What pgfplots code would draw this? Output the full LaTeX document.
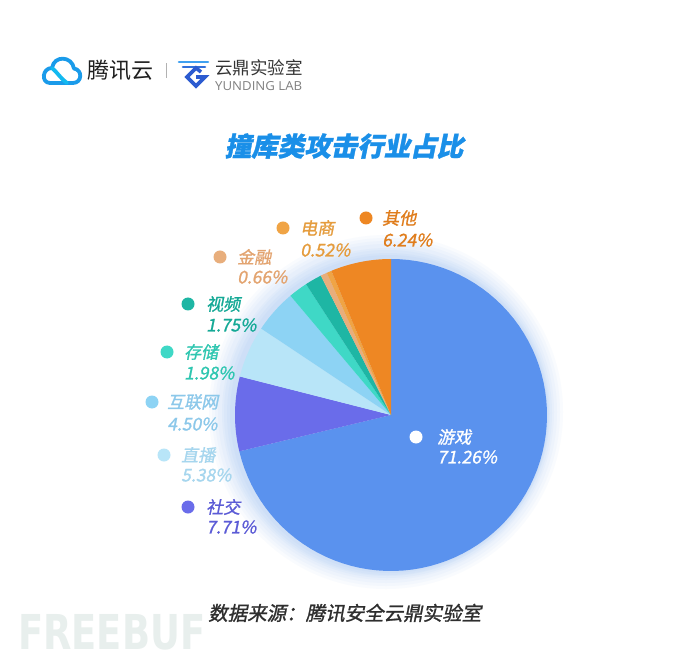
\documentclass[border=0pt]{standalone}
\usepackage{fontspec}
\setmainfont{Noto Sans CJK SC}
\newfontfamily\cjksl{Noto Sans CJK SC}[FakeSlant=0.2]
\newfontfamily\cjkslb{Noto Sans CJK SC}[FakeSlant=0.2, FakeBold=1.2]
\newfontfamily\latinsans{Open Sans}
\newfontfamily\wmfont{DejaVu Sans}
\usepackage{graphicx}
\usepackage{pgfplots}
\usepackage{pgfplotstable}
\pgfplotsset{compat=1.18}

\definecolor{cgame}{HTML}{5A92EE}
\definecolor{csocial}{HTML}{6A6CEA}
\definecolor{clive}{HTML}{B8E5F8}
\definecolor{cnet}{HTML}{8DD3F4}
\definecolor{cstore}{HTML}{3FD8C6}
\definecolor{cvideo}{HTML}{1EB6A4}
\definecolor{cfin}{HTML}{E8AE7C}
\definecolor{cshop}{HTML}{F0A445}
\definecolor{cother}{HTML}{EE8723}
\definecolor{tsocial}{HTML}{5B5BD6}
\definecolor{tlive}{HTML}{A6D6EE}
\definecolor{tnet}{HTML}{8CC8EA}
\definecolor{tstore}{HTML}{2EC6B0}
\definecolor{tvideo}{HTML}{15A996}
\definecolor{tfin}{HTML}{E3A470}
\definecolor{tshop}{HTML}{E59C3D}
\definecolor{tother}{HTML}{E07D1C}
\definecolor{titleblue}{HTML}{1A8FE8}
\definecolor{glow}{HTML}{6FA8F5}
\definecolor{logoc}{HTML}{1A9BEA}
\definecolor{ydblue}{HTML}{2C5BD0}
\definecolor{ydlight}{HTML}{3FA0F0}
\definecolor{wm}{HTML}{E8EFED}

% percentage of each sector, clockwise from 12 o'clock
\pgfplotstableread[col sep=comma]{
pct,col
71.26,cgame
7.71,csocial
5.38,clive
4.50,cnet
1.98,cstore
1.75,cvideo
0.66,cfin
0.52,cshop
6.24,cother
}\piedata

\newcommand\pielabel[8]{% dotx, doty, dotcolor, textcolor, textx, name, pct, pcty
  \fill[#3] (axis cs:#1,#2) circle[radius=6.5bp];
  \node[anchor=west, inner sep=0pt, text=#4, font=\cjkslb\fontsize{17bp}{17bp}\selectfont] at (axis cs:#5,#2) {#6};
  \node[anchor=west, inner sep=0pt, text=#4, font=\cjkslb\fontsize{17.5bp}{17bp}\selectfont] at (axis cs:#5,#8) {#7};
}

\begin{document}
\begin{tikzpicture}
\begin{axis}[at={(0,0)}, anchor=south west, scale only axis,
  width=690bp, height=662bp, xmin=0, xmax=690, ymin=0, ymax=662,
  hide axis, clip=false]
\fill[white] (axis cs:0,0) rectangle (axis cs:690,662);
% watermark
\node[anchor=west, inner sep=0pt, text=wm, font=\wmfont\bfseries] at (axis cs:18,30) {\resizebox{187bp}{35bp}{FREEBUF}};
% glow
\fill[glow, opacity=0.04] (axis cs:386,250) circle[radius=177bp];
\fill[glow, opacity=0.04] (axis cs:386,250) circle[radius=174bp];
\fill[glow, opacity=0.045] (axis cs:386,250) circle[radius=171bp];
\fill[glow, opacity=0.045] (axis cs:386,250) circle[radius=168bp];
\fill[glow, opacity=0.05] (axis cs:387,249) circle[radius=165bp];
\fill[glow, opacity=0.05] (axis cs:387,249) circle[radius=163bp];
\fill[glow, opacity=0.05] (axis cs:388,248) circle[radius=161bp];
\fill[glow, opacity=0.05] (axis cs:389,248) circle[radius=159bp];
% pie
\pgfplotstablegetrowsof{\piedata}
\pgfmathtruncatemacro\N{\pgfplotsretval-1}
\gdef\cum{0}
\pgfplotsforeachungrouped \i in {0,...,\N}{
  \pgfplotstablegetelem{\i}{pct}\of\piedata \let\p\pgfplotsretval
  \pgfplotstablegetelem{\i}{col}\of\piedata \let\c\pgfplotsretval
  \pgfmathsetmacro\a{\cum*3.6}
  \pgfmathsetmacro\b{(\cum+\p)*3.6}
  \edef\temp{\noexpand\addplot[fill=\c, draw=none, domain=\a:\b, samples=80]
    ({391+156*sin(x)},{247+156*cos(x)}) -- (axis cs:391,247) -- cycle;}
  \temp
  \pgfmathsetmacro\cumn{\cum+\p}\global\let\cum\cumn
}
% labels
\pielabel{366}{444}{cother}{tother}{382}{其他}{6.24\%}{422}
\pielabel{283}{434}{cshop}{tshop}{300}{电商}{0.52\%}{412}
\pielabel{220}{405}{cfin}{tfin}{237}{金融}{0.66\%}{385}
\pielabel{188}{358}{cvideo}{tvideo}{206}{视频}{1.75\%}{337}
\pielabel{167}{310}{cstore}{tstore}{184}{存储}{1.98\%}{289}
\pielabel{152}{260}{cnet}{tnet}{167}{互联网}{4.50\%}{238}
\pielabel{164}{207}{clive}{tlive}{181}{直播}{5.38\%}{187}
\pielabel{188}{155}{csocial}{tsocial}{206}{社交}{7.71\%}{135}
\pielabel{416}{225}{white}{white}{437}{游戏}{71.26\%}{205}
% title
\node[anchor=center, inner sep=0pt, text=titleblue, font=\cjkslb\bfseries\fontsize{26.5bp}{27bp}\selectfont] at (axis cs:344,516) {撞库类攻击行业占比};
% source
\node[anchor=west, inner sep=0pt, text=black!82, font=\cjkslb\fontsize{19.5bp}{20bp}\selectfont] at (axis cs:208,49) {数据来源：腾讯安全云鼎实验室};
% Tencent Cloud logo
\draw[line width=3.8bp, logoc, line cap=round, line join=round]
  (axis cs:50,579) -- (axis cs:73,579) .. controls (axis cs:82,579) and (axis cs:83,592) .. (axis cs:74,593.5)
  .. controls (axis cs:72,606) and (axis cs:54,607) .. (axis cs:52,594)
  .. controls (axis cs:42,594) and (axis cs:41,579) .. (axis cs:50,579);
\draw[line width=3.8bp, logoc!70!cyan, line cap=round]
  (axis cs:52,594) .. controls (axis cs:57,590) and (axis cs:61,583) .. (axis cs:67,579);
\node[anchor=west, inner sep=0pt, text=black!88, font=\fontsize{22bp}{22bp}\selectfont] at (axis cs:87,592) {腾讯云};
\draw[line width=1bp, black!30] (axis cs:166,584) -- (axis cs:166,599);
% Yunding logo
\draw[line width=2.6bp, ydlight, line cap=round] (axis cs:179,600) -- (axis cs:208,600);
\draw[line width=2.6bp, ydblue!70!ydlight, line cap=round] (axis cs:183,595) -- (axis cs:205,595);
\draw[line width=3.6bp, ydblue, line join=miter] (axis cs:201,590) -- (axis cs:196,594) -- (axis cs:187,585) -- (axis cs:196,576) -- (axis cs:205,585) -- (axis cs:196,585);
\node[anchor=west, inner sep=0pt, text=black!80, font=\fontsize{17.5bp}{18bp}\selectfont] at (axis cs:215,594) {云鼎实验室};
\node[anchor=west, inner sep=0pt, text=black!50, font=\latinsans] at (axis cs:215,576) {\resizebox{87bp}{9bp}{YUNDING LAB}};
\end{axis}
\end{tikzpicture}
\end{document}
